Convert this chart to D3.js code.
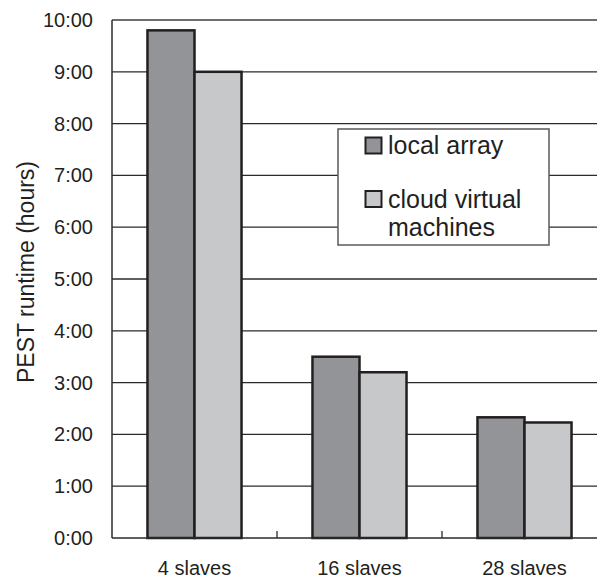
<!DOCTYPE html>
<html><head><meta charset="utf-8">
<script src="https://cdn.jsdelivr.net/npm/d3@7"></script>
<style>body{margin:0;background:#fff}svg{display:block}text{font-family:"Liberation Sans",Arial,sans-serif;fill:#231f20}</style>
</head><body><svg id="c" width="597" height="579"></svg>
<script>
const categories = ["4 slaves", "16 slaves", "28 slaves"];
const seriesNames = ["local array", "cloud virtual machines"];
const localArray = [9.8, 3.5, 2.33];
const cloudVM = [9.0, 3.2, 2.23];
const tickValues = [0,1,2,3,4,5,6,7,8,9,10];
const tickLabels = ["0:00","1:00","2:00","3:00","4:00","5:00","6:00","7:00","8:00","9:00","10:00"];
const colors = ["#939497", "#c7c8ca"];

const svg = d3.select("#c");
const L = 112, R = 607, T = 20, B = 538;
const y = d3.scaleLinear().domain([0,10]).range([B,T]);
const x0 = d3.scaleBand().domain(categories).range([L,R]).paddingInner(0.43).paddingOuter(0.215);
const x1 = d3.scaleBand().domain(seriesNames).range([0, x0.bandwidth()]);

// gridlines
svg.append("g").selectAll("line").data(tickValues.filter(v => v>0 && v<10)).join("line")
  .attr("x1", L).attr("x2", R).attr("y1", d=>y(d)).attr("y2", d=>y(d))
  .attr("stroke", "#2b2b2b").attr("stroke-width", 1.3);
// top border
svg.append("line").attr("x1", L).attr("x2", R).attr("y1", y(10)).attr("y2", y(10))
  .attr("stroke", "#6e6e6e").attr("stroke-width", 2);

// y axis
const yAxis = d3.axisLeft(y).tickValues(tickValues).tickFormat((d,i)=>tickLabels[i]).tickSize(0).tickPadding(19);
const ga = svg.append("g").attr("transform", `translate(${L},0)`).call(yAxis);
ga.select(".domain").remove();
ga.selectAll("text").style("font-size","20px").attr("fill","#231f20");
svg.append("line").attr("x1", L).attr("x2", L).attr("y1", T).attr("y2", B).attr("stroke","#2b2b2b").attr("stroke-width",1.5);

// bars
const data = categories.map((c,i)=>({cat:c, vals:[localArray[i], cloudVM[i]]}));
const g = svg.append("g").selectAll("g").data(data).join("g").attr("transform", d=>`translate(${x0(d.cat)},0)`);
g.selectAll("rect").data(d=>d.vals.map((v,j)=>({s:seriesNames[j], v, j}))).join("rect")
  .attr("x", d=>x1(d.s)).attr("width", x1.bandwidth())
  .attr("y", d=>y(d.v)).attr("height", d=>B-y(d.v))
  .attr("fill", d=>colors[d.j]).attr("stroke","#231f20").attr("stroke-width",2.5);

// x axis
svg.append("line").attr("x1", L).attr("x2", R).attr("y1", B).attr("y2", B).attr("stroke","#2b2b2b").attr("stroke-width",1.5);
const step = x0.step();
svg.append("g").selectAll("line").data([1,2]).join("line")
  .attr("x1", d=>L+d*step).attr("x2", d=>L+d*step).attr("y1", B).attr("y2", B-7)
  .attr("stroke","#2b2b2b").attr("stroke-width",1.3);
svg.append("g").selectAll("text").data(categories).join("text")
  .attr("x", d=>x0(d)+x0.bandwidth()/2).attr("y", 575).attr("text-anchor","middle")
  .style("font-size","20px").text(d=>d);

// y title
svg.append("text").attr("transform","translate(34,272) rotate(-90)").attr("text-anchor","middle")
  .style("font-size","23px").text("PEST runtime (hours)");

// legend
const lg = svg.append("g");
lg.append("rect").attr("x",338).attr("y",129).attr("width",211).attr("height",116)
  .attr("fill","#fff").attr("stroke","#5a5a5a").attr("stroke-width",1.5);
const items = [{name:seriesNames[0], lines:["local array"], sy:137.5},{name:seriesNames[1], lines:["cloud virtual","machines"], sy:191}];
items.forEach((it,i)=>{
  lg.append("rect").attr("x",365.5).attr("y",it.sy).attr("width",16).attr("height",16)
    .attr("fill",colors[i]).attr("stroke","#231f20").attr("stroke-width",2);
  it.lines.forEach((t,k)=>{
    lg.append("text").attr("x",388).attr("y",it.sy+16.5+k*28.5).style("font-size","25px").text(t);
  });
});
</script></body></html>
